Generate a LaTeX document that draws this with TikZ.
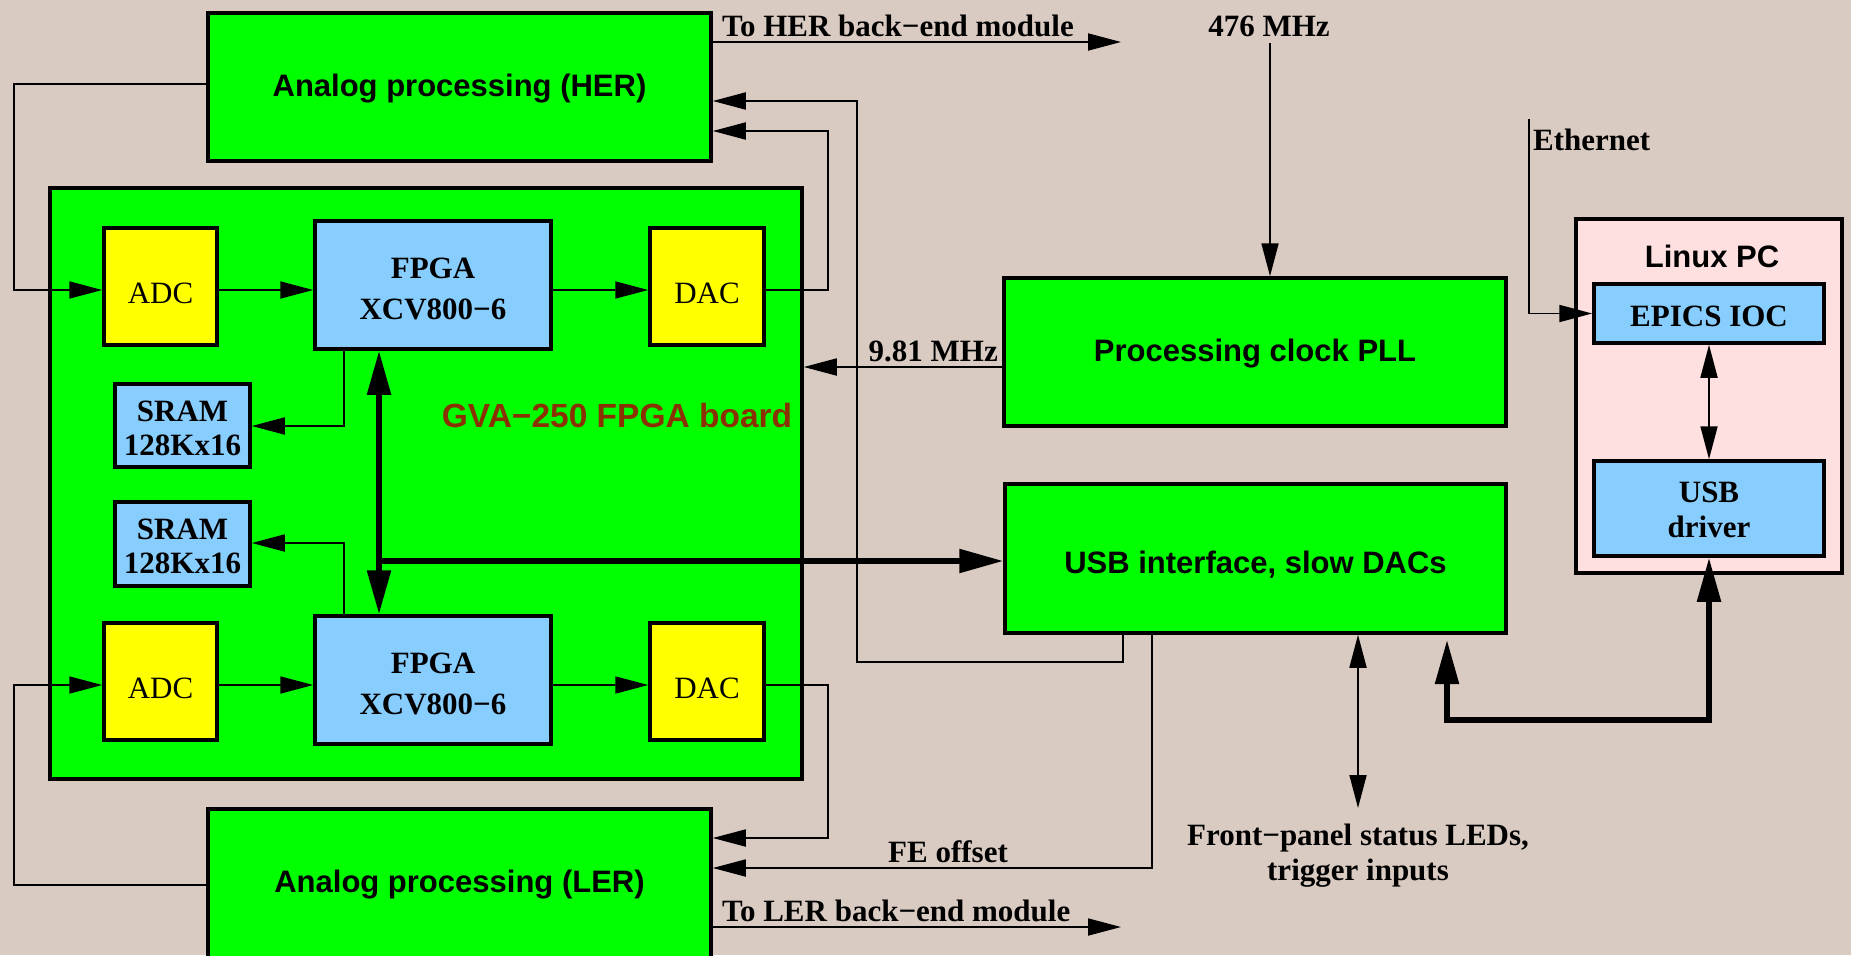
\documentclass[tikz,border=0pt]{standalone}
\usepackage{fontspec}
\setmainfont{Liberation Serif}
\newfontfamily\hv{Liberation Sans}
\usetikzlibrary{arrows.meta}
\definecolor{bgc}{HTML}{D9CBC2}
\definecolor{grn}{HTML}{00FF00}
\definecolor{ylw}{HTML}{FFFF00}
\definecolor{lblue}{HTML}{87CEFF}
\definecolor{pinkc}{HTML}{FFE0E0}
\definecolor{brownc}{HTML}{8B3000}
\tikzset{
  tipA/.tip={Triangle[length=33pt,width=17pt]},
  tipB/.tip={Triangle[length=44pt,width=23pt]},
}
\begin{document}
\begin{tikzpicture}[x=1pt,y=-1pt,
  every node/.style={font=\fontsize{31}{35}\selectfont, inner sep=0pt},
  box/.style={draw, line width=3.5pt, inner sep=0pt, align=center},
  gbox/.style={box, fill=grn, text depth=0pt, font=\hv\bfseries\fontsize{31}{35}\selectfont},
  ybox/.style={box, fill=ylw, text height=33pt, text depth=0pt, font=\fontsize{31}{35}\selectfont},
  bbox/.style={box, fill=lblue, font=\bfseries\fontsize{31}{35}\selectfont},
  lbl/.style={font=\bfseries\fontsize{31}{35}\selectfont},
  hvlbl/.style={font=\hv\bfseries\fontsize{31}{35}\selectfont},
  ln/.style={line width=1.8pt},
  bus/.style={line width=5.5pt},
]
\path[use as bounding box, fill=bgc] (0,0) rectangle (1851,955);

% boxes
\node[gbox, text height=19.4pt, minimum width=503pt, minimum height=148pt] (her) at (459.5,87) {Analog processing (HER)};
\node[gbox, text height=14pt, minimum width=503pt, minimum height=152pt] (ler) at (459.5,885) {Analog processing (LER)};
\node[box, fill=grn, minimum width=752pt, minimum height=591pt] (board) at (426,483.5) {};
\node[hvlbl, text=brownc, anchor=base, font=\hv\bfseries\fontsize{33.5}{38}\selectfont] (gva) at (617,427) {GVA−250 FPGA board};

\node[ybox, minimum width=113pt, minimum height=117pt] (adc1) at (160.5,286.5) {ADC};
\node[ybox, minimum width=113pt, minimum height=117pt] (adc2) at (160.5,681.5) {ADC};
\node[bbox, minimum width=236pt, minimum height=128pt] (fpga1) at (433,285) {\rule{0pt}{29pt}FPGA\\[6pt]XCV800−6};
\node[bbox, minimum width=236pt, minimum height=128pt] (fpga2) at (433,680) {\rule{0pt}{29pt}FPGA\\[6pt]XCV800−6};
\node[ybox, minimum width=114pt, minimum height=117pt] (dac1) at (707,286.5) {DAC};
\node[ybox, minimum width=114pt, minimum height=117pt] (dac2) at (707,681.5) {DAC};
\node[bbox, minimum width=135pt, minimum height=83pt] (sram1) at (182.5,425.5) {\rule{0pt}{26pt}SRAM\\[-1pt]128Kx16};
\node[bbox, minimum width=135pt, minimum height=84pt] (sram2) at (182.5,544) {\rule{0pt}{26pt}SRAM\\[-1pt]128Kx16};

\node[gbox, text height=18pt, minimum width=502pt, minimum height=148pt] (pll) at (1255,352) {Processing clock PLL};
\node[gbox, text height=29pt, minimum width=501pt, minimum height=149pt] (usb) at (1255.5,558.5) {USB interface, slow DACs};

\node[box, fill=pinkc, minimum width=266pt, minimum height=354pt] (pc) at (1709,396) {};
\node[hvlbl, anchor=base] (pclbl) at (1712,267) {Linux PC};
\node[bbox, text height=25pt, text depth=0pt, minimum width=230pt, minimum height=59pt] (epics) at (1709,313.5) {EPICS IOC};
\node[bbox, minimum width=230pt, minimum height=95pt] (usbdrv) at (1709,508.5) {\rule{0pt}{24pt}USB\\driver};

% free labels
\node[lbl, anchor=base west] (herlbl) at (722,37) {To HER back−end module};
\node[lbl, anchor=base west] (lerlbl) at (722,921) {To LER back−end module};
\node[lbl, anchor=base] (f476) at (1269,37) {476 MHz};
\node[lbl, anchor=base east] (f981) at (998,361) {9.81 MHz};
\node[lbl, anchor=base west] (ethlbl) at (1533,150) {Ethernet};
\node[lbl, anchor=base] (feoff) at (948,862) {FE offset};
\node[lbl, anchor=north, align=center] (fplbl) at (1358,824) {Front−panel status LEDs,\\trigger inputs};

% free ends
\coordinate (herout) at (1121,42);
\coordinate (lerout) at (1121,927);
\coordinate (eth) at (1529,119);
\coordinate (usbin) at (1447,640);
\coordinate (fp) at (1358,808);

% connectors
\draw[ln,-{tipA}] (her.west |- 0,84) -| (14,290) -- (adc1.west |- 0,290);
\draw[ln,-{tipA}] (adc1.east |- 0,290) -- (fpga1.west |- 0,290);
\draw[ln,-{tipA}] (fpga1.east |- 0,290) -- (dac1.west |- 0,290);
\draw[ln,-{tipA}] (dac1.east |- 0,290) -| (828,131) -- (her.east |- 0,131);
\draw[ln,-{tipA}] (usb.south -| 1123,0) |- (857,662) |- (her.east |- 0,101);

\draw[ln,-{tipA}] (ler.west |- 0,885) -| (14,685) -- (adc2.west |- 0,685);
\draw[ln,-{tipA}] (adc2.east |- 0,685) -- (fpga2.west |- 0,685);
\draw[ln,-{tipA}] (fpga2.east |- 0,685) -- (dac2.west |- 0,685);
\draw[ln,-{tipA}] (dac2.east |- 0,685) -| (828,838) -- (ler.east |- 0,838);
\draw[ln,-{tipA}] (usb.south -| 1152,0) |- (ler.east |- 0,868);

\draw[ln,-{tipA}] (fpga1.south -| 344,0) |- (sram1.east |- 0,426);
\draw[ln,-{tipA}] (fpga2.north -| 344,0) |- (sram2.east |- 0,543);
\draw[bus,{tipB}-{tipB}] (fpga1.south -| 379,0) -- (fpga2.north -| 379,0);
\draw[bus,-{tipB}] (379,561) -- (usb.west |- 0,561);

\draw[ln,-{tipA}] (pll.west |- 0,367) -- (board.east |- 0,367);
\draw[ln,-{tipA}] ([yshift=-6pt]f476.base -| 1270,0) -- (pll.north -| 1270,0);
\draw[ln,-{tipA}] (her.east |- herout) -- (herout);
\draw[ln,-{tipA}] (ler.east |- lerout) -- (lerout);

\draw[ln,-{tipA}] (eth) |- (epics.west);
\draw[ln,{tipA}-{tipA}] (epics.south) -- (usbdrv.north);
\draw[bus,{tipB}-{tipB}] (usbdrv.south) |- (usbin |- 0,720) -- (usbin);
\draw[ln,{tipA}-{tipA}] (usb.south -| fp) -- (fp);
\end{tikzpicture}
\end{document}
